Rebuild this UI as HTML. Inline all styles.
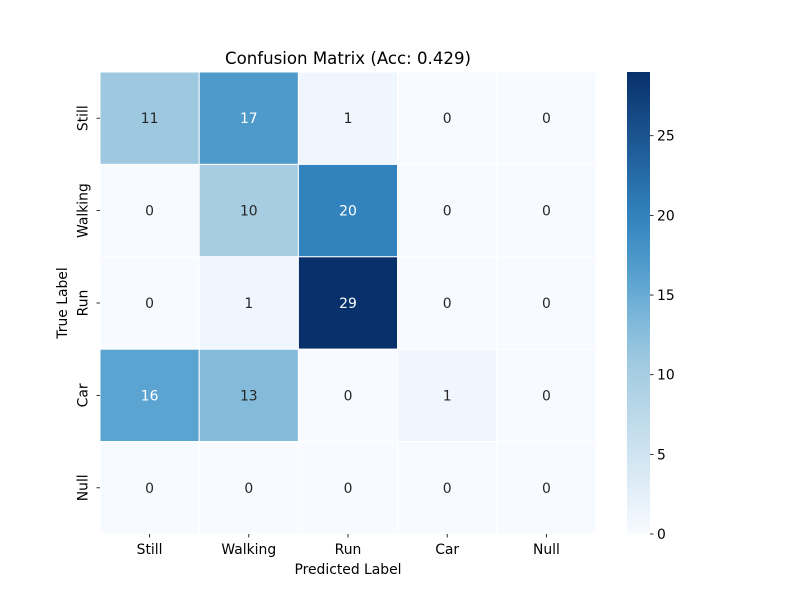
<!DOCTYPE html>
<html><head><meta charset="utf-8"><style>
body{margin:0;background:#fff;}
svg{display:block;font-family:"DejaVu Sans","Liberation Sans",sans-serif;}
</style></head><body>
<svg id="chart" width="800" height="600" xmlns="http://www.w3.org/2000/svg">
<text x="348" y="64" text-anchor="middle" font-size="16.6">Confusion Matrix (Acc: 0.429)</text>
<g id="cells"></g>
<g id="axes"></g>
<defs><linearGradient id="cbgrad" x1="0" y1="1" x2="0" y2="0"></linearGradient></defs>
<rect x="627" y="72" width="23" height="462" fill="url(#cbgrad)"/>
<g id="cbticks"></g>
<text x="348" y="574" text-anchor="middle" font-size="13.9">Predicted Label</text>
<text transform="translate(67,303) rotate(-90)" text-anchor="middle" font-size="13.9">True Label</text>
</svg>
<script>
const labels = ["Still","Walking","Run","Car","Null"];
const matrix = [
 [11,17,1,0,0],
 [0,10,20,0,0],
 [0,1,29,0,0],
 [16,13,0,1,0],
 [0,0,0,0,0]
];
const cbTicks = [0,5,10,15,20,25];
const vmax = 29;
const stops=[[0,[247,251,255]],[0.034,[240,246,253]],[0.345,[166,205,226]],[0.379,[157,200,224]],[0.448,[132,187,219]],[0.552,[91,163,208]],[0.586,[78,154,202]],[0.69,[50,130,190]],[1,[8,48,107]]];
function cmap(t){t=Math.max(0,Math.min(1,t));for(let i=1;i<stops.length;i++){if(t<=stops[i][0]){const a=stops[i-1],b=stops[i];const f=(t-a[0])/(b[0]-a[0]);const c=a[1].map((v,k)=>Math.round(v+(b[1][k]-v)*f));return [c,`rgb(${c.join(',')})`];}}return [stops[stops.length-1][1],'rgb(8,48,107)'];}
function lum(c){const l=c.map(v=>{v/=255;return v<=0.03928?v/12.92:Math.pow((v+0.055)/1.055,2.4);});return 0.2126*l[0]+0.7152*l[1]+0.0722*l[2];}
const X0=100,Y0=72,W=496,H=462,n=labels.length,cw=W/n,ch=H/n;
const xs=i=>X0+i*cw, ys=j=>Y0+j*ch, cy=v=>534-v/vmax*462;
const NS="http://www.w3.org/2000/svg";
const cells=document.getElementById('cells'),axes=document.getElementById('axes');
function mk(tag,attrs,parent){const e=document.createElementNS(NS,tag);for(const k in attrs)e.setAttribute(k,attrs[k]);parent.appendChild(e);return e;}
matrix.forEach((row,r)=>row.forEach((v,c)=>{
 const [col,css]=cmap(v/vmax);
 const rect=mk('rect',{x:xs(c),y:ys(r),width:cw,height:ch,fill:css,stroke:'#fff','stroke-width':1},cells);
 
 
 const t=mk('text',{x:xs(c)+cw/2,y:ys(r)+ch/2+5,'text-anchor':'middle','font-size':13.9,fill:lum(col)>0.408?'#262626':'#ffffff'},cells);
 t.textContent=v;
 
 
}));
labels.forEach((l,i)=>{
 mk('line',{x1:xs(i)+cw/2,x2:xs(i)+cw/2,y1:534,y2:537.5,stroke:'#000','stroke-width':0.8},axes);
 const t=mk('text',{x:xs(i)+cw/2,y:554,'text-anchor':'middle','font-size':13.9},axes);
 t.textContent=l;
 
 
 mk('line',{x1:96.5,x2:100,y1:ys(i)+ch/2,y2:ys(i)+ch/2,stroke:'#000','stroke-width':0.8},axes);
 const y=mk('text',{transform:`translate(87.5,${ys(i)+ch/2}) rotate(-90)`,'text-anchor':'middle','font-size':13.9},axes);
 y.textContent=l;
 
 
});
const g=document.getElementById('cbgrad');
for(let k=0;k<=40;k++){const [c,css]=cmap(k/40);mk('stop',{offset:k/40,'stop-color':css},g);}
const cbt=document.getElementById('cbticks');
cbTicks.forEach(v=>{
 mk('line',{x1:650,x2:653.5,y1:cy(v),y2:cy(v),stroke:'#000','stroke-width':0.8},cbt);
 const t=mk('text',{x:657,y:cy(v)+5,'font-size':13.9},cbt);
 t.textContent=v;
 
 
});
</script>
</body></html>
